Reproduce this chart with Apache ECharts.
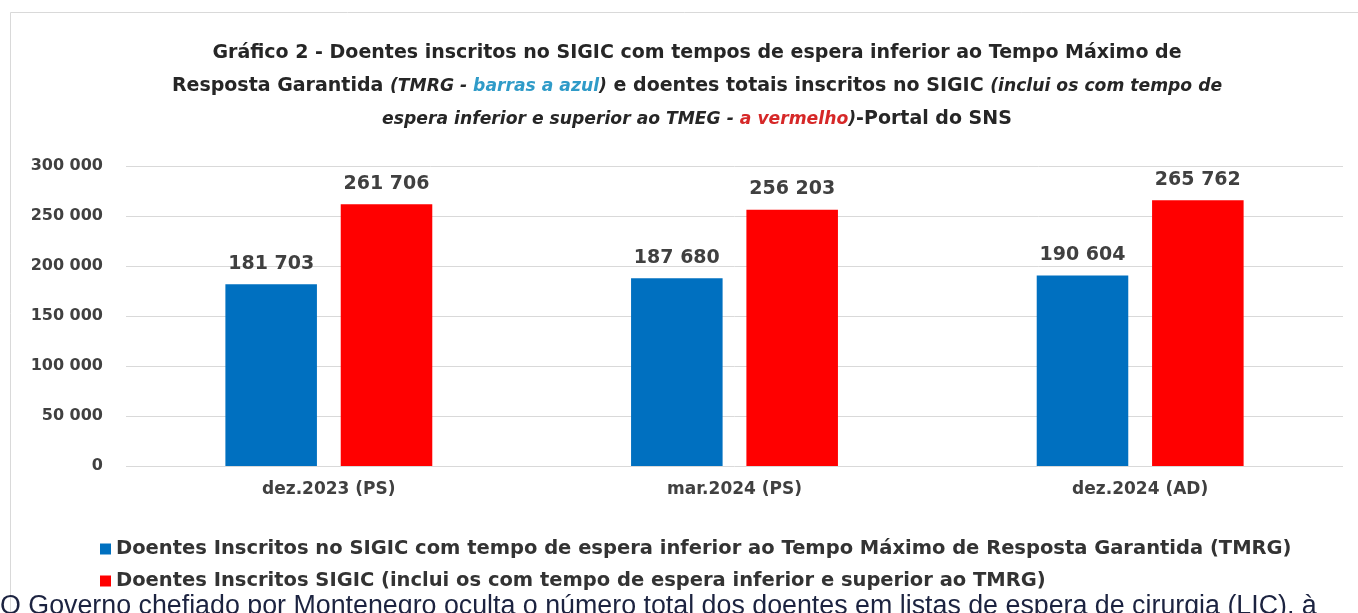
<!DOCTYPE html>
<html>
<head>
<meta charset="utf-8">
<script src="https://cdn.jsdelivr.net/npm/echarts@6/dist/echarts.min.js"></script>
<style>
html,body{margin:0;padding:0;background:#fff;}
#main{width:1358px;height:613px;}
</style>
</head>
<body>
<div id="main"></div>
<script>
const categories = ['dez.2023 (PS)', 'mar.2024 (PS)', 'dez.2024 (AD)'];
const seriesNames = [
  'Doentes Inscritos no SIGIC com tempo de espera inferior ao Tempo Máximo de Resposta Garantida (TMRG)',
  'Doentes Inscritos SIGIC (inclui os com tempo de espera inferior e superior ao TMRG)'
];
const blueValues = [181703, 187680, 190604];
const redValues = [261706, 256203, 265762];
const yTicks = [0, 50000, 100000, 150000, 200000, 250000, 300000];

function fmt(v){
  return String(v).replace(/\B(?=(\d{3})+(?!\d))/g, ' ');
}

const chart = echarts.init(document.getElementById('main'), null, {renderer:'canvas'});
const labelColor = '#404040';
const font = 'DejaVu Sans, Verdana, sans-serif';
const font2 = 'Liberation Sans, Arial, sans-serif';

chart.setOption({
  backgroundColor: '#fff',
  animation: false,
  title: {
    left: 692,
    top: 32,
    textAlign: 'center',
    text: '{b|Gráfico 2 - Doentes inscritos no SIGIC com tempos de espera inferior ao Tempo Máximo de}\n' +
          '{b|Resposta Garantida }{i|(TMRG - }{ib|barras a azul}{i|)}{b| e doentes totais inscritos no SIGIC }{i|(inclui os com tempo de}\n' +
          '{i|espera inferior e superior ao TMEG - }{ir|a vermelho}{i|)}{b|-Portal do SNS}',
    textStyle: {
      rich: {
        b: {fontFamily: font, fontWeight: 'bold', fontSize: 19, color: '#262626', lineHeight: 33},
        i: {fontFamily: font, fontWeight: 'bold', fontStyle: 'italic', fontSize: 17.2, color: '#262626', lineHeight: 33},
        ib: {fontFamily: font, fontWeight: 'bold', fontStyle: 'italic', fontSize: 17.2, color: '#2f9bc8', lineHeight: 33},
        ir: {fontFamily: font, fontWeight: 'bold', fontStyle: 'italic', fontSize: 17.2, color: '#d62828', lineHeight: 33}
      }
    }
  },
  grid: {left: 126, right: 15, top: 166, bottom: 147, containLabel: false},
  legend: {
    orient: 'vertical',
    left: 95,
    top: 534,
    itemWidth: 11,
    itemHeight: 11,
    itemGap: 12,
    icon: 'rect',
    textStyle: {fontFamily: font, fontWeight: 'bold', fontSize: 19.5, color: '#333'},
    data: seriesNames
  },
  xAxis: {
    type: 'category',
    data: categories,
    axisLine: {show: false},
    axisTick: {show: false},
    axisLabel: {fontFamily: font, fontWeight: 'bold', fontSize: 17, color: labelColor, margin: 15}
  },
  yAxis: {
    type: 'value',
    min: 0,
    max: 300000,
    interval: 50000,
    axisLine: {show: false},
    axisTick: {show: false},
    splitLine: {lineStyle: {color: '#d9d9d9', width: 1}},
    axisLabel: {
      fontFamily: font, fontWeight: 'bold', fontSize: 16, color: labelColor, margin: 23,
      formatter: function(v){ return yTicks.indexOf(v) >= 0 ? fmt(v) : ''; }
    }
  },
  series: [
    {
      name: seriesNames[0],
      type: 'bar',
      data: blueValues,
      barGap: '26%',
      barCategoryGap: '49%',
      itemStyle: {color: '#0070c0'},
      label: {show: true, position: 'top', distance: 11, fontFamily: font, fontWeight: 'bold', fontSize: 19, color: labelColor, formatter: p => fmt(p.value)}
    },
    {
      name: seriesNames[1],
      type: 'bar',
      data: redValues,
      itemStyle: {color: '#ff0000'},
      label: {show: true, position: 'top', distance: 11, fontFamily: font, fontWeight: 'bold', fontSize: 19, color: labelColor, formatter: p => fmt(p.value)}
    }
  ],
  graphic: [
    {type: 'rect', shape: {x: 10.5, y: 12.5, width: 1400, height: 700}, style: {fill: null, stroke: '#d9d9d9', lineWidth: 1}, silent: true, z: -1},
    {type: 'text', left: 0, top: 593, style: {text: 'O Governo chefiado por Montenegro oculta o número total dos doentes em listas de espera de cirurgia (LIC), à', fontFamily: font2, fontSize: 26.8, fill: '#1c2340'}, silent: true}
  ]
});
</script>
</body>
</html>
